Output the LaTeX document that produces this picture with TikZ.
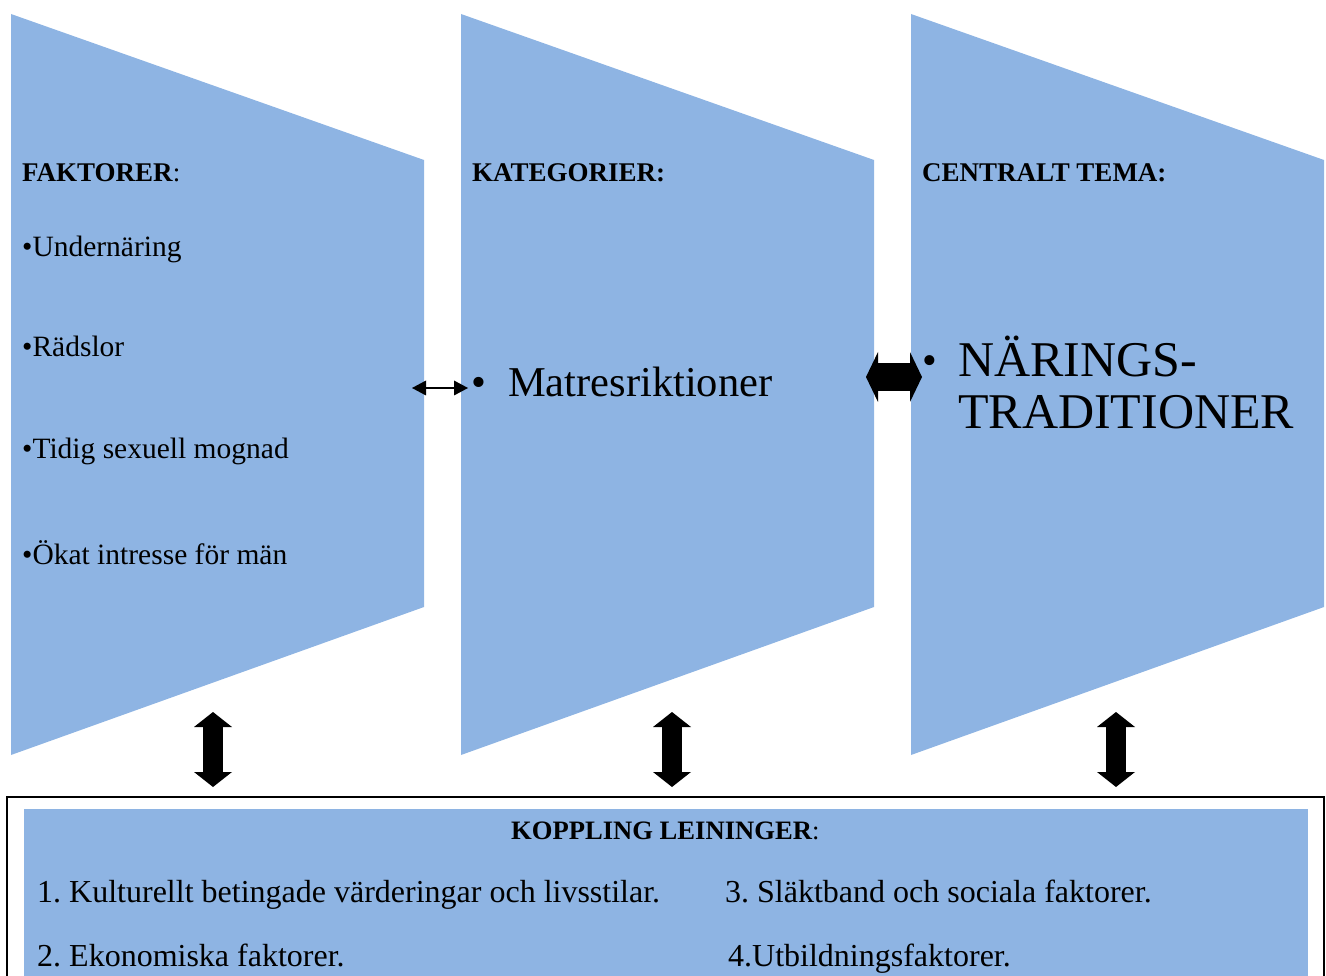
\documentclass[tikz,border=0pt]{standalone}
\usepackage{fontspec}
\setmainfont{Liberation Serif}
\usetikzlibrary{arrows.meta}
\definecolor{panelblue}{RGB}{142,180,227}
\frenchspacing
\begin{document}
\begin{tikzpicture}[x=1pt, y=-1pt,
  panel/.style={fill=panelblue},
  head/.style={anchor=base west, inner sep=0pt, font=\fontsize{27}{30}\selectfont\bfseries},
  item/.style={anchor=base west, inner sep=0pt, font=\fontsize{29.5}{34}\selectfont},
  bottomtext/.style={anchor=base west, inner sep=0pt, font=\fontsize{32}{36}\selectfont},
  link/.style={{Triangle[length=14pt,width=15pt,line width=0pt]}-{Triangle[length=14pt,width=15pt,line width=0pt]}, line width=1.5pt},
  bigv/.style={{Triangle[length=15pt,width=38pt,line width=0pt]}-{Triangle[length=15pt,width=38pt,line width=0pt]}, line width=20pt},
  bigh/.style={{Triangle[length=12pt,width=50pt,line width=0pt]}-{Triangle[length=12pt,width=50pt,line width=0pt]}, line width=28pt}]
\useasboundingbox (0,0) rectangle (1326,976);
\clip (0,0) rectangle (1326,976);
\foreach \x in {11,461,911}
  \fill[panel] (\x,14) -- ++(413,146) -- ++(0,447) -- ++(-413,148) -- cycle;
\draw[line width=1.5pt] (7,797) rectangle (1324,1000);
\fill[panel] (24,809) rectangle (1308,1000);

\node[head] (faktorer) at (22,182) {FAKTORER\textmd{:}};
\node[item] (under) at (22,257) {\textbullet Undernäring};
\node[item] (radsl) at (22,357) {\textbullet Rädslor};
\node[item] (tidig) at (22,458) {\textbullet Tidig sexuell mognad};
\node[item] (okat) at (22,564) {\textbullet Ökat intresse för män};

\node[head] (kategorier) at (472,182) {KATEGORIER:};
\node[anchor=base west, inner sep=0pt, font=\fontsize{42.5}{48}\selectfont] (matres) at (471,396) {\textbullet\hspace{22pt}Matresriktioner};

\node[head] (tema) at (922,182) {CENTRALT TEMA:};
\node[anchor=base west, inner sep=0pt, font=\fontsize{42}{48}\selectfont] (bullet) at (922,375) {\textbullet};
\node[anchor=north west, inner sep=0pt, align=left, font=\fontsize{50}{52}\selectfont] (naring) at (958,336) {NÄRINGS-\\TRADITIONER};

\node[anchor=base west, inner sep=0pt, font=\fontsize{26.6}{30}\selectfont\bfseries] (koppling) at (511,839) {KOPPLING LEININGER\textmd{:}};
\node[bottomtext] (k1) at (37,902) {1. Kulturellt betingade värderingar och livsstilar.};
\node[bottomtext] (k3) at (725,902) {3. Släktband och sociala faktorer.};
\node[bottomtext] (k2) at (37,966) {2. Ekonomiska faktorer.};
\node[bottomtext] (k4) at (728,966) {4.Utbildningsfaktorer.};

\coordinate (p1e) at (412,388);
\coordinate (p2w) at (468,388);
\coordinate (p2e) at (866,377);
\coordinate (p3w) at (922,377);
\coordinate (p1s) at (213,712);
\coordinate (p2s) at (672,712);
\coordinate (p3s) at (1116,712);
\coordinate (b1) at (213,787);
\coordinate (b2) at (672,787);
\coordinate (b3) at (1116,787);

\draw[link] (p1e) -- (p2w);
\draw[bigh] (p2e) -- (p3w);
\draw[bigv] (p1s) -- (b1);
\draw[bigv] (p2s) -- (b2);
\draw[bigv] (p3s) -- (b3);
\end{tikzpicture}
\end{document}
